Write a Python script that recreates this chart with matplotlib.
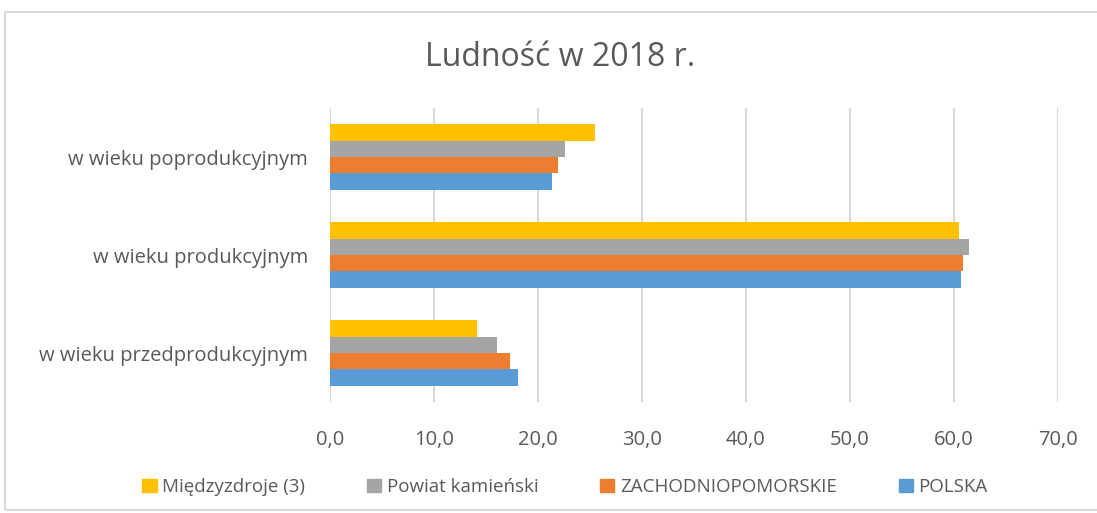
import numpy as np
import matplotlib.pyplot as plt
from matplotlib.patches import Rectangle, Patch
from matplotlib.ticker import FuncFormatter

categories = ["w wieku przedprodukcyjnym", "w wieku produkcyjnym", "w wieku poprodukcyjnym"]
series_names = ["POLSKA", "ZACHODNIOPOMORSKIE", "Powiat kamieński", "Międzyzdroje (3)"]
polska = [18.1, 60.7, 21.3]
zachodniopomorskie = [17.3, 60.9, 21.9]
powiat = [16.1, 61.4, 22.6]
miedzyzdroje = [14.1, 60.5, 25.5]
colors = ["#5B9BD5", "#ED7D31", "#A5A5A5", "#FFC000"]

plt.rcParams['font.family'] = ['Open Sans', 'DejaVu Sans']
txt = "#595959"

fig = plt.figure(figsize=(10.97, 5.13), dpi=100)
fig.patches.append(Rectangle((5 / 1097, 3 / 513), 1100 / 1097, 498 / 513, transform=fig.transFigure,
                             fill=False, edgecolor="#D9D9D9", linewidth=1.5))
ax = fig.add_axes([330 / 1097, 111 / 513, 728 / 1097, 294 / 513])

y = np.arange(len(categories))
h = 0.168
data = [polska, zachodniopomorskie, powiat, miedzyzdroje]
for i, (vals, c) in enumerate(zip(data, colors)):
    ax.barh(y + (i - 1.5) * h, vals, height=h, color=c, zorder=3)

ax.set_xlim(0, 70)
ax.set_ylim(-0.5, 2.5)
ax.set_xticks(np.arange(0, 71, 10))
ax.xaxis.set_major_formatter(FuncFormatter(lambda v, p: f"{v:.1f}".replace(".", ",")))
ax.set_yticks(y)
ax.set_yticklabels(categories)
ax.grid(axis="x", color="#D9D9D9", linewidth=1.5, zorder=0)
for s in ax.spines.values():
    s.set_visible(False)
ax.tick_params(axis="x", length=0, labelsize=14.5, colors=txt, pad=20)
ax.tick_params(axis="y", length=0, labelsize=14.5, colors=txt, pad=16)

fig.text(560 / 1097, 1 - 58 / 513, "Ludność w 2018 r.", ha="center", va="center", fontsize=23, color=txt)

handles = [Patch(color=colors[i]) for i in [3, 2, 1, 0]]
labels = [series_names[i] for i in [3, 2, 1, 0]]
fig.legend(handles, labels, loc="center", bbox_to_anchor=(565 / 1097, 1 - 487 / 513), ncol=4, frameon=False,
           fontsize=13.5, labelcolor=txt, handlelength=0.75, handleheight=0.75, handletextpad=0.3, columnspacing=3.3)

fig.savefig("out.png", dpi=100)
